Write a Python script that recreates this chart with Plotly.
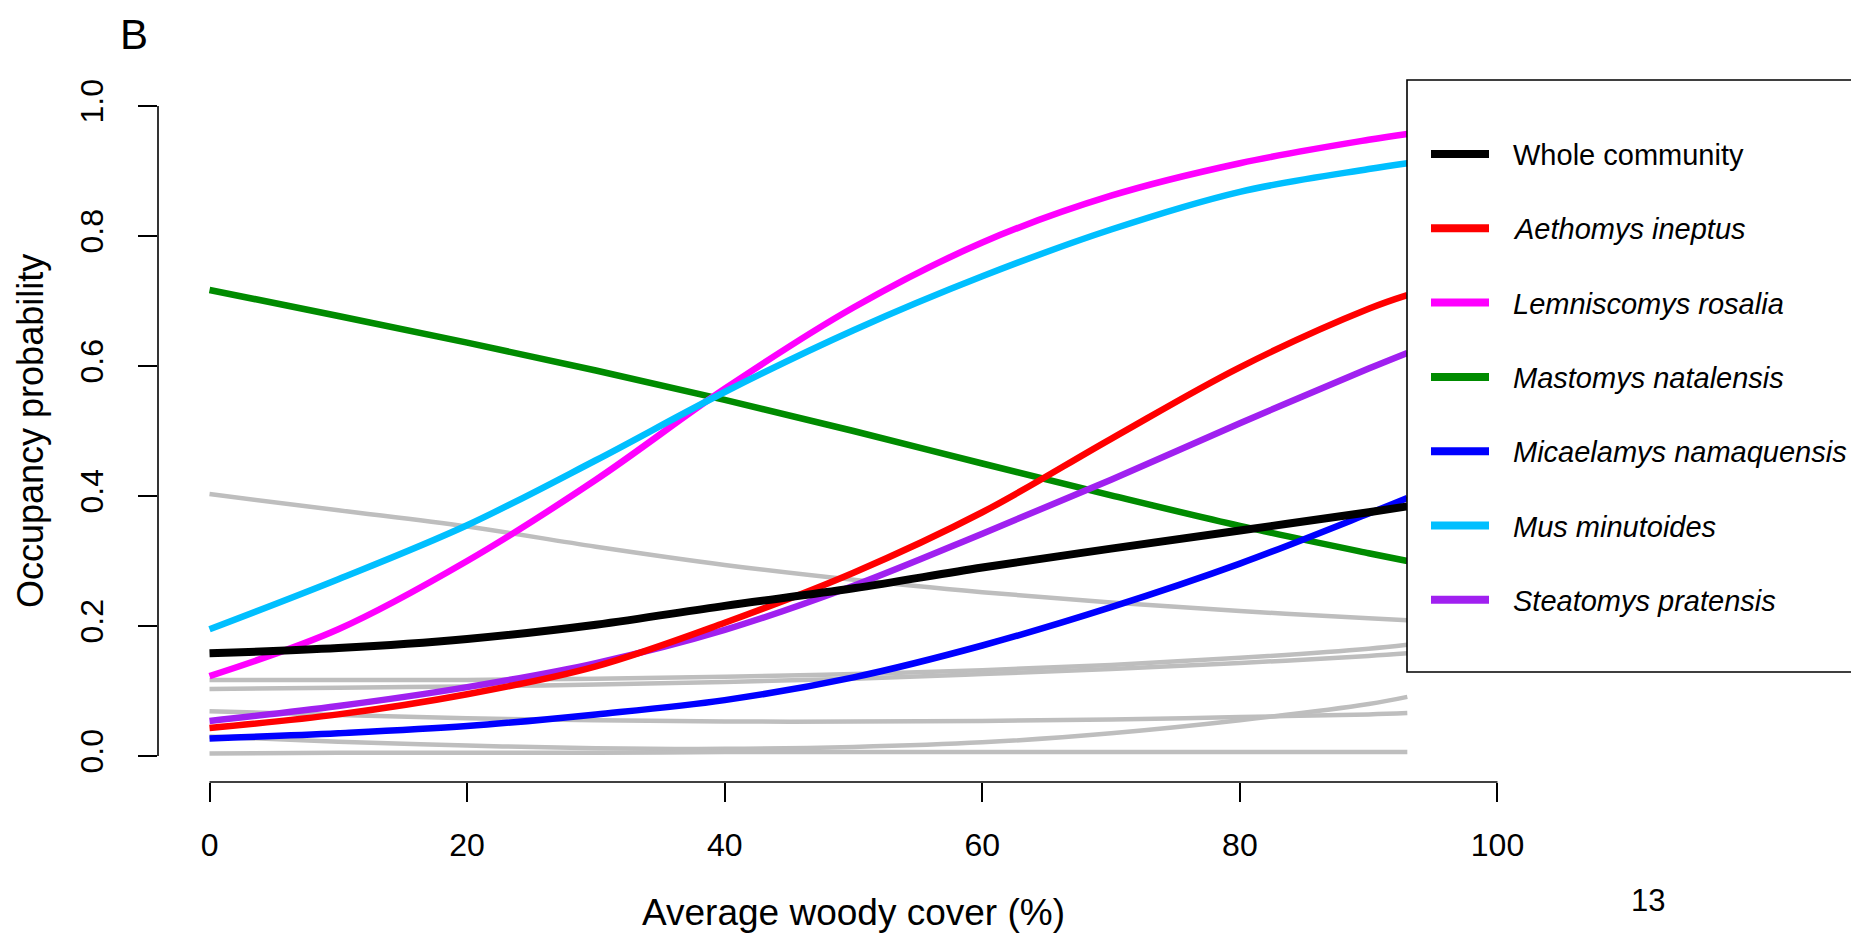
import plotly.graph_objects as go

# ---------------- data ----------------
woody_cover = [0, 10, 20, 30, 40, 50, 60, 70, 80, 90, 93]

whole_community = [0.158, 0.166, 0.180, 0.202, 0.231, 0.258, 0.290, 0.319, 0.347, 0.375, 0.384]
aethomys_ineptus = [0.043, 0.064, 0.095, 0.138, 0.205, 0.282, 0.375, 0.488, 0.598, 0.688, 0.709]
lemniscomys_rosalia = [0.123, 0.195, 0.300, 0.425, 0.565, 0.690, 0.790, 0.862, 0.912, 0.948, 0.957]
mastomys_natalensis = [0.717, 0.677, 0.636, 0.593, 0.548, 0.500, 0.450, 0.401, 0.354, 0.312, 0.300]
micaelamys_namaquensis = [0.027, 0.035, 0.046, 0.064, 0.086, 0.121, 0.170, 0.229, 0.296, 0.373, 0.397]
mus_minutoides = [0.195, 0.272, 0.355, 0.455, 0.560, 0.655, 0.738, 0.810, 0.868, 0.903, 0.912]
steatomys_pratensis = [0.054, 0.077, 0.106, 0.143, 0.194, 0.262, 0.342, 0.425, 0.512, 0.596, 0.620]

other_species = [
    [0.403, 0.378, 0.353, 0.322, 0.294, 0.271, 0.252, 0.236, 0.223, 0.212, 0.209],
    [0.117, 0.117, 0.117, 0.119, 0.122, 0.126, 0.132, 0.140, 0.151, 0.165, 0.171],
    [0.103, 0.105, 0.107, 0.110, 0.114, 0.119, 0.126, 0.134, 0.143, 0.154, 0.158],
    [0.069, 0.063, 0.058, 0.055, 0.053, 0.053, 0.054, 0.056, 0.060, 0.064, 0.066],
    [0.030, 0.022, 0.016, 0.012, 0.011, 0.014, 0.021, 0.035, 0.055, 0.080, 0.091],
    [0.004, 0.005, 0.005, 0.005, 0.006, 0.006, 0.006, 0.006, 0.006, 0.006, 0.006],
]

legend_names = ["Whole community", "Aethomys ineptus", "Lemniscomys rosalia",
                "Mastomys natalensis", "Micaelamys namaquensis", "Mus minutoides",
                "Steatomys pratensis"]
x_ticks = [0, 20, 40, 60, 80, 100]
y_ticks = [0.0, 0.2, 0.4, 0.6, 0.8, 1.0]

# ---------------- styling ----------------
FONT = "Liberation Sans, Arial, Helvetica, sans-serif"
colors = {
    "Whole community": "#000000",
    "Aethomys ineptus": "#FF0000",
    "Lemniscomys rosalia": "#FF00FF",
    "Mastomys natalensis": "#008B00",
    "Micaelamys namaquensis": "#0000FF",
    "Mus minutoides": "#00BFFF",
    "Steatomys pratensis": "#A020F0",
}
series = {
    "Whole community": whole_community,
    "Aethomys ineptus": aethomys_ineptus,
    "Lemniscomys rosalia": lemniscomys_rosalia,
    "Mastomys natalensis": mastomys_natalensis,
    "Micaelamys namaquensis": micaelamys_namaquensis,
    "Mus minutoides": mus_minutoides,
    "Steatomys pratensis": steatomys_pratensis,
}

# the page body has an 8px default margin; size the figure so it ends at the window edge
OFF = 8
W, H = 1859 - OFF, 937 - OFF
ML, MR, MT, MB = 158 - OFF, 310, 80 - OFF, 155
PW, PH = W - ML - MR, H - MT - MB


def px2paper_x(px):
    # px in window coordinates
    return (px - OFF - ML) / PW


def px2paper_y(py):
    return (H - MB - (py - OFF)) / PH


fig = go.Figure()

for vals in other_species:
    fig.add_trace(go.Scatter(x=woody_cover, y=vals, mode="lines",
                             line=dict(color="#BEBEBE", width=4.5, shape="spline", smoothing=1.0),
                             showlegend=False, hoverinfo="skip"))

draw_order = ["Mastomys natalensis", "Lemniscomys rosalia", "Mus minutoides",
              "Micaelamys namaquensis", "Steatomys pratensis", "Aethomys ineptus",
              "Whole community"]
for name in draw_order:
    fig.add_trace(go.Scatter(x=woody_cover, y=series[name], mode="lines", name=name,
                             line=dict(color=colors[name],
                                       width=8 if name == "Whole community" else 6.5,
                                       shape="spline", smoothing=1.0),
                             showlegend=False))

shapes = []
# R-style axis lines spanning only the first to last tick
shapes.append(dict(type="line", xref="x", yref="paper", x0=x_ticks[0], x1=x_ticks[-1],
                   y0=0, y1=0, line=dict(color="black", width=1.6)))
shapes.append(dict(type="line", xref="paper", yref="y", x0=0, x1=0,
                   y0=y_ticks[0], y1=y_ticks[-1], line=dict(color="black", width=1.6)))

# legend box
shapes.append(dict(type="rect", xref="paper", yref="paper",
                   x0=px2paper_x(1407), x1=px2paper_x(1857),
                   y0=px2paper_y(672), y1=px2paper_y(80),
                   fillcolor="white", line=dict(color="black", width=1.6), layer="above"))

annotations = []
row_y = [154 + i * 74.3 for i in range(len(legend_names))]
for name, ry in zip(legend_names, row_y):
    shapes.append(dict(type="line", xref="paper", yref="paper",
                       x0=px2paper_x(1431), x1=px2paper_x(1489),
                       y0=px2paper_y(ry), y1=px2paper_y(ry),
                       line=dict(color=colors[name], width=8), layer="above"))
    label = name if name == "Whole community" else f"<i>{name}</i>"
    annotations.append(dict(text=label, xref="paper", yref="paper",
                            x=px2paper_x(1511), y=px2paper_y(ry + 1),
                            xanchor="left", yanchor="middle", showarrow=False,
                            font=dict(family=FONT, size=29, color="black")))

annotations.append(dict(text="Average woody cover (%)", xref="paper", yref="paper",
                        x=px2paper_x(853), y=px2paper_y(912), xanchor="center",
                        yanchor="middle", showarrow=False,
                        font=dict(family=FONT, size=37, color="black")))
annotations.append(dict(text="Occupancy probability", xref="paper", yref="paper",
                        x=px2paper_x(30), y=px2paper_y(431), xanchor="center",
                        yanchor="middle", textangle=-90, showarrow=False,
                        font=dict(family=FONT, size=36, color="black")))
annotations.append(dict(text="B", xref="paper", yref="paper",
                        x=px2paper_x(134), y=px2paper_y(34), xanchor="center",
                        yanchor="middle", showarrow=False,
                        font=dict(family=FONT, size=42, color="black")))
annotations.append(dict(text="13", xref="paper", yref="paper",
                        x=px2paper_x(1648), y=px2paper_y(901), xanchor="center",
                        yanchor="middle", showarrow=False,
                        font=dict(family=FONT, size=31, color="black")))

fig.update_layout(
    width=W, height=H,
    margin=dict(l=ML, r=MR, t=MT, b=MB, pad=0),
    paper_bgcolor="white", plot_bgcolor="white",
    showlegend=False,
    shapes=shapes, annotations=annotations,
    xaxis=dict(range=[-4, 104], tickvals=x_ticks, ticktext=[str(v) for v in x_ticks],
               showgrid=False, zeroline=False, showline=False,
               ticks="outside", ticklen=19, tickwidth=1.6, tickcolor="black",
               ticklabelstandoff=16,
               tickfont=dict(family=FONT, size=32, color="black")),
    yaxis=dict(range=[-0.04, 1.04], tickvals=y_ticks,
               ticktext=[f"{v:.1f}" for v in y_ticks],
               showgrid=False, zeroline=False, showline=False,
               ticks="outside", ticklen=19, tickwidth=1.6, tickcolor="black",
               tickangle=-90, ticklabelstandoff=22,
               tickfont=dict(family=FONT, size=32, color="black")),
)

fig.write_html("out.html")
